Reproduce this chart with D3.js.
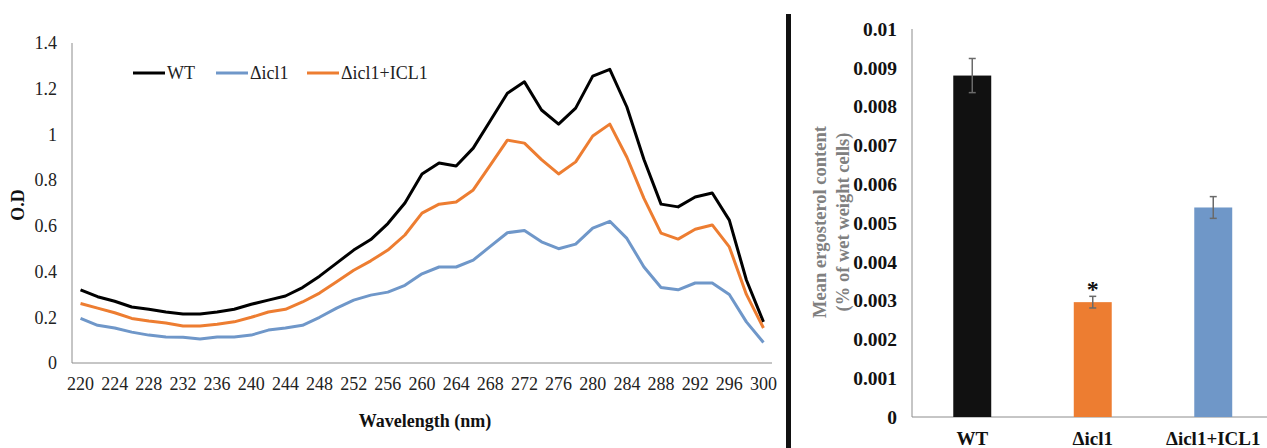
<!DOCTYPE html>
<html>
<head>
<meta charset="utf-8">
<script src="https://cdn.jsdelivr.net/npm/d3@7/dist/d3.min.js"></script>
<style>
  html, body { margin: 0; padding: 0; background: #fff; }
  svg { display: block; }
</style>
</head>
<body>
<svg id="chart" width="1267" height="448" font-family="'Liberation Serif', 'Times New Roman', Times, 'DejaVu Serif', serif"></svg>
<script>
// Absorbance spectra (O.D) by wavelength
const wavelengths = [220,222,224,226,228,230,232,234,236,238,240,242,244,246,248,250,252,254,256,258,260,
  262,264,266,268,270,272,274,276,278,280,282,284,286,288,290,292,294,296,298,300];
const wtOD = [0.32,0.29,0.27,0.245,0.235,0.223,0.214,0.214,0.223,0.235,0.257,0.275,0.293,0.33,0.38,0.437,0.494,0.54,0.61,0.70,0.827,
  0.875,0.862,0.94,1.06,1.18,1.23,1.107,1.045,1.115,1.255,1.285,1.12,0.89,0.695,0.683,0.726,0.744,0.625,0.363,0.18];
const icl1OD = [0.195,0.165,0.153,0.135,0.122,0.114,0.113,0.105,0.114,0.114,0.122,0.144,0.153,0.165,0.20,0.24,0.275,0.297,0.31,0.34,0.39,
  0.42,0.42,0.45,0.51,0.57,0.58,0.53,0.50,0.52,0.59,0.62,0.545,0.42,0.33,0.32,0.35,0.35,0.30,0.18,0.09];
const complementedOD = [0.26,0.24,0.22,0.195,0.184,0.175,0.162,0.162,0.17,0.18,0.20,0.223,0.235,0.267,0.306,0.355,0.406,0.447,0.494,0.56,0.656,
  0.695,0.704,0.757,0.866,0.975,0.962,0.89,0.827,0.88,0.993,1.045,0.90,0.72,0.568,0.542,0.585,0.604,0.508,0.30,0.153];
const seriesNames = ["WT", "\u0394icl1", "\u0394icl1+ICL1"];
const odTicks = [0, 0.2, 0.4, 0.6, 0.8, 1, 1.2, 1.4];
const wavelengthTicks = [220,224,228,232,236,240,244,248,252,256,260,264,268,272,276,280,284,288,292,296,300];

// Ergosterol content per strain
const strains = ["WT", "\u0394icl1", "\u0394icl1+ICL1"];
const ergosterolMean = [0.0088, 0.00296, 0.0054];
const ergosterolErr = [0.00044, 0.00015, 0.00028];
const ergosterolTicks = [0, 0.001, 0.002, 0.003, 0.004, 0.005, 0.006, 0.007, 0.008, 0.009, 0.01];
const significance = ["", "*", ""];

const lineColors = ["#000000", "#6f97c9", "#ed7d31"];
const barColors = ["#111111", "#ed7d31", "#6f97c8"];
const axisGrey = "#8c8c8c";

const svg = d3.select("#chart");

// ---------- Left panel: spectra ----------
const x = d3.scaleBand().domain(wavelengths).range([72, 772]);
const xc = w => x(w) + x.bandwidth() / 2;
const y = d3.scaleLinear().domain([0, 1.4]).range([363, 43]);

const left = svg.append("g");

left.append("line").attr("x1", 72).attr("x2", 72).attr("y1", y(1.4)).attr("y2", y(0))
  .attr("stroke", axisGrey).attr("stroke-width", 1);
left.append("line").attr("x1", 72).attr("x2", 772).attr("y1", y(0)).attr("y2", y(0))
  .attr("stroke", axisGrey).attr("stroke-width", 1);

left.selectAll("text.ytick").data(odTicks).join("text")
  .attr("class", "ytick")
  .attr("x", 57).attr("y", d => y(d)).attr("dy", "0.35em")
  .attr("text-anchor", "end").attr("font-size", 18).attr("fill", "#222")
  .text(d => d3.format("~g")(d));

left.selectAll("text.xtick").data(wavelengthTicks).join("text")
  .attr("class", "xtick")
  .attr("x", d => xc(d)).attr("y", 384).attr("dy", "0.35em")
  .attr("text-anchor", "middle").attr("font-size", 18).attr("fill", "#222")
  .text(d => d);

left.append("text").attr("x", 425).attr("y", 421).attr("dy", "0.35em")
  .attr("text-anchor", "middle").attr("font-size", 18).attr("font-weight", "bold").attr("fill", "#111")
  .text("Wavelength (nm)");

left.append("text").attr("transform", "translate(18,205) rotate(-90)").attr("dy", "0.35em")
  .attr("text-anchor", "middle").attr("font-size", 18).attr("font-weight", "bold").attr("fill", "#111")
  .text("O.D");

const lineGen = d3.line().x((d, i) => xc(wavelengths[i])).y(d => y(d));
const spectra = [wtOD, icl1OD, complementedOD];
left.selectAll("path.series").data(spectra).join("path")
  .attr("class", "series")
  .attr("d", d => lineGen(d))
  .attr("fill", "none")
  .attr("stroke", (d, i) => lineColors[i])
  .attr("stroke-width", 3)
  .attr("stroke-linejoin", "round");

// legend
const legendX = [133, 216, 307];
const legend = left.selectAll("g.legend").data(seriesNames).join("g")
  .attr("class", "legend")
  .attr("transform", (d, i) => `translate(${legendX[i]},73)`);
legend.append("line").attr("x1", 0).attr("x2", 32).attr("y1", 0).attr("y2", 0)
  .attr("stroke", (d, i) => lineColors[i]).attr("stroke-width", 3);
legend.append("text").attr("x", 34).attr("y", 0).attr("dy", "0.35em")
  .attr("font-size", 18).attr("fill", "#222").text(d => d);

// ---------- Divider ----------
svg.append("rect").attr("x", 786).attr("y", 14).attr("width", 5).attr("height", 434).attr("fill", "#111");

// ---------- Right panel: ergosterol bars ----------
const xb = d3.scaleBand().domain(strains).range([912, 1273.5]).paddingInner(0.685).paddingOuter(0.3425);
const yb = d3.scaleLinear().domain([0, 0.01]).range([417, 29]);

const right = svg.append("g");

right.append("line").attr("x1", 912).attr("x2", 912).attr("y1", yb(0.01)).attr("y2", yb(0))
  .attr("stroke", axisGrey).attr("stroke-width", 1);
right.append("line").attr("x1", 912).attr("x2", 1267).attr("y1", yb(0)).attr("y2", yb(0))
  .attr("stroke", axisGrey).attr("stroke-width", 1);

right.selectAll("text.ytick").data(ergosterolTicks).join("text")
  .attr("class", "ytick")
  .attr("x", 897).attr("y", d => yb(d)).attr("dy", "0.35em")
  .attr("text-anchor", "end").attr("font-size", 19.5).attr("font-weight", "bold").attr("fill", "#111")
  .text(d => d3.format("~g")(d));

right.selectAll("rect.bar").data(ergosterolMean).join("rect")
  .attr("class", "bar")
  .attr("x", (d, i) => xb(strains[i]))
  .attr("width", xb.bandwidth())
  .attr("y", d => yb(d))
  .attr("height", d => yb(0) - yb(d))
  .attr("fill", (d, i) => barColors[i]);

// error bars
const eb = right.selectAll("g.err").data(ergosterolMean).join("g").attr("class", "err");
eb.append("line")
  .attr("x1", (d, i) => xb(strains[i]) + xb.bandwidth() / 2)
  .attr("x2", (d, i) => xb(strains[i]) + xb.bandwidth() / 2)
  .attr("y1", (d, i) => yb(d + ergosterolErr[i]))
  .attr("y2", (d, i) => yb(d - ergosterolErr[i]))
  .attr("stroke", "#6a6a6a").attr("stroke-width", 1.5);
[1, -1].forEach(s => {
  eb.append("line")
    .attr("x1", (d, i) => xb(strains[i]) + xb.bandwidth() / 2 - 3.5)
    .attr("x2", (d, i) => xb(strains[i]) + xb.bandwidth() / 2 + 3.5)
    .attr("y1", (d, i) => yb(d + s * ergosterolErr[i]))
    .attr("y2", (d, i) => yb(d + s * ergosterolErr[i]))
    .attr("stroke", "#6a6a6a").attr("stroke-width", 1.5);
});

right.selectAll("text.sig").data(significance).join("text")
  .attr("class", "sig")
  .attr("x", (d, i) => xb(strains[i]) + xb.bandwidth() / 2)
  .attr("y", (d, i) => yb(ergosterolMean[i] + ergosterolErr[i]) + 1)
  .attr("text-anchor", "middle").attr("font-size", 24).attr("font-weight", "bold").attr("fill", "#111")
  .text(d => d);

right.selectAll("text.cat").data(strains).join("text")
  .attr("class", "cat")
  .attr("x", d => xb(d) + xb.bandwidth() / 2).attr("y", 438).attr("dy", "0.35em")
  .attr("text-anchor", "middle").attr("font-size", 19).attr("font-weight", "bold").attr("fill", "#111")
  .text(d => d);

const ylab = right.append("text").attr("transform", "translate(831,222) rotate(-90)")
  .attr("text-anchor", "middle").attr("font-size", 18.5).attr("font-weight", "bold").attr("fill", "#808080");
ylab.append("tspan").attr("x", 0).attr("dy", "-0.25em").text("Mean ergosterol content");
ylab.append("tspan").attr("x", 0).attr("dy", "1.2em").text("(% of wet weight cells)");
</script>
</body>
</html>
